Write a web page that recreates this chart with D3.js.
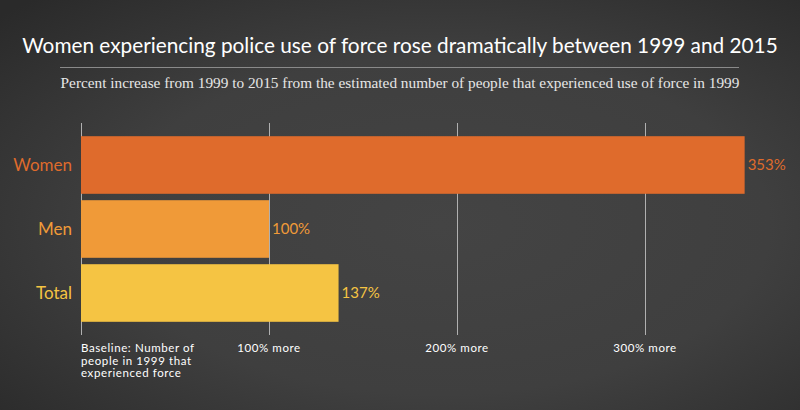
<!DOCTYPE html>
<html>
<head>
<meta charset="utf-8">
<script src="https://cdn.jsdelivr.net/npm/d3@7"></script>
<style>
html,body{margin:0;padding:0;background:#333;}
svg{display:block;}
</style>
</head>
<body>
<script>
const categories = ["Women", "Men", "Total"];
const values = [353, 100, 137];
const valueLabels = ["353%", "100%", "137%"];
const barColors = ["#DF6B2C", "#F09A38", "#F5C443"];
const tickValues = [0, 100, 200, 300];
const tickLabels = [["Baseline: Number of", "people in 1999 that", "experienced force"], ["100% more"], ["200% more"], ["300% more"]];
const title = "Women experiencing police use of force rose dramatically between 1999 and 2015";
const subtitle = "Percent increase from 1999 to 2015 from the estimated number of people that experienced use of force in 1999";

const W = 800, H = 410;
const svg = d3.select("body").append("svg").attr("width", W).attr("height", H);

const defs = svg.append("defs");
const grad = defs.append("radialGradient").attr("id", "bg")
  .attr("cx", "55%").attr("cy", "55%").attr("r", "75%");
grad.append("stop").attr("offset", "0%").attr("stop-color", "#444444");
grad.append("stop").attr("offset", "55%").attr("stop-color", "#3f3f3f");
grad.append("stop").attr("offset", "100%").attr("stop-color", "#2a2a2a");
svg.append("rect").attr("width", W).attr("height", H).attr("fill", "url(#bg)");

const sans = "Lato, 'Open Sans', sans-serif";

function fitText(sel, target, maxSize) {
  let size = maxSize;
  sel.attr("font-size", size);
  const w = sel.node().getComputedTextLength();
  if (w > target) { size = size * target / w; sel.attr("font-size", size); }
  return sel;
}

const tt = svg.append("text").attr("x", 400).attr("y", 53).attr("text-anchor", "middle")
  .attr("fill", "#ffffff").attr("font-family", sans)
  .text(title);
fitText(tt, 756, 24);
svg.append("line").attr("x1", 60).attr("x2", 739).attr("y1", 67.5).attr("y2", 67.5)
  .attr("stroke", "#8a8a8a").attr("stroke-width", 1);
const st = svg.append("text").attr("x", 400).attr("y", 88).attr("text-anchor", "middle")
  .attr("fill", "#e6e6e6").attr("font-family", "'Liberation Serif', 'DejaVu Serif', serif")
  .text(subtitle);
fitText(st, 679, 16);

const x = d3.scaleLinear().domain([0, 100]).range([81, 269]);
const y = d3.scaleBand().domain(categories).range([133, 325]).paddingInner(0.1).paddingOuter(0.05);

// gridlines
svg.append("g").selectAll("line").data(tickValues).join("line")
  .attr("x1", d => Math.round(x(d)) + 0.5).attr("x2", d => Math.round(x(d)) + 0.5)
  .attr("y1", 123).attr("y2", 335)
  .attr("stroke", "#b0b0b0").attr("stroke-width", 1);

const data = categories.map((c, i) => ({c, v: values[i], lab: valueLabels[i], col: barColors[i]}));

svg.append("g").selectAll("rect").data(data).join("rect")
  .attr("x", x(0)).attr("y", d => y(d.c))
  .attr("width", d => x(d.v) - x(0)).attr("height", y.bandwidth())
  .attr("fill", d => d.col);

svg.append("g").selectAll("text").data(data).join("text")
  .attr("x", 72).attr("y", d => y(d.c) + y.bandwidth() / 2 + 6)
  .attr("text-anchor", "end").attr("fill", d => d.col)
  .attr("font-family", sans).attr("font-size", 17).text(d => d.c);

svg.append("g").selectAll("text").data(data).join("text")
  .attr("x", d => x(d.v) + 3).attr("y", d => y(d.c) + y.bandwidth() / 2 + 5)
  .attr("fill", d => d.col)
  .attr("font-family", sans).attr("font-size", 15).text(d => d.lab);

const tk = svg.append("g").selectAll("text").data(tickValues).join("text")
  .attr("x", d => x(d))
  .attr("y", 352)
  .attr("text-anchor", d => d === 0 ? "start" : "middle")
  .attr("fill", "#ffffff").attr("font-family", sans).attr("font-size", 11.5)
  .attr("letter-spacing", 0.6);
tk.each(function(d, i) {
  const t = d3.select(this);
  tickLabels[i].forEach((line, j) => {
    t.append("tspan").attr("x", x(d)).attr("dy", j === 0 ? 0 : 12.5).text(line);
  });
});
</script>
</body>
</html>
